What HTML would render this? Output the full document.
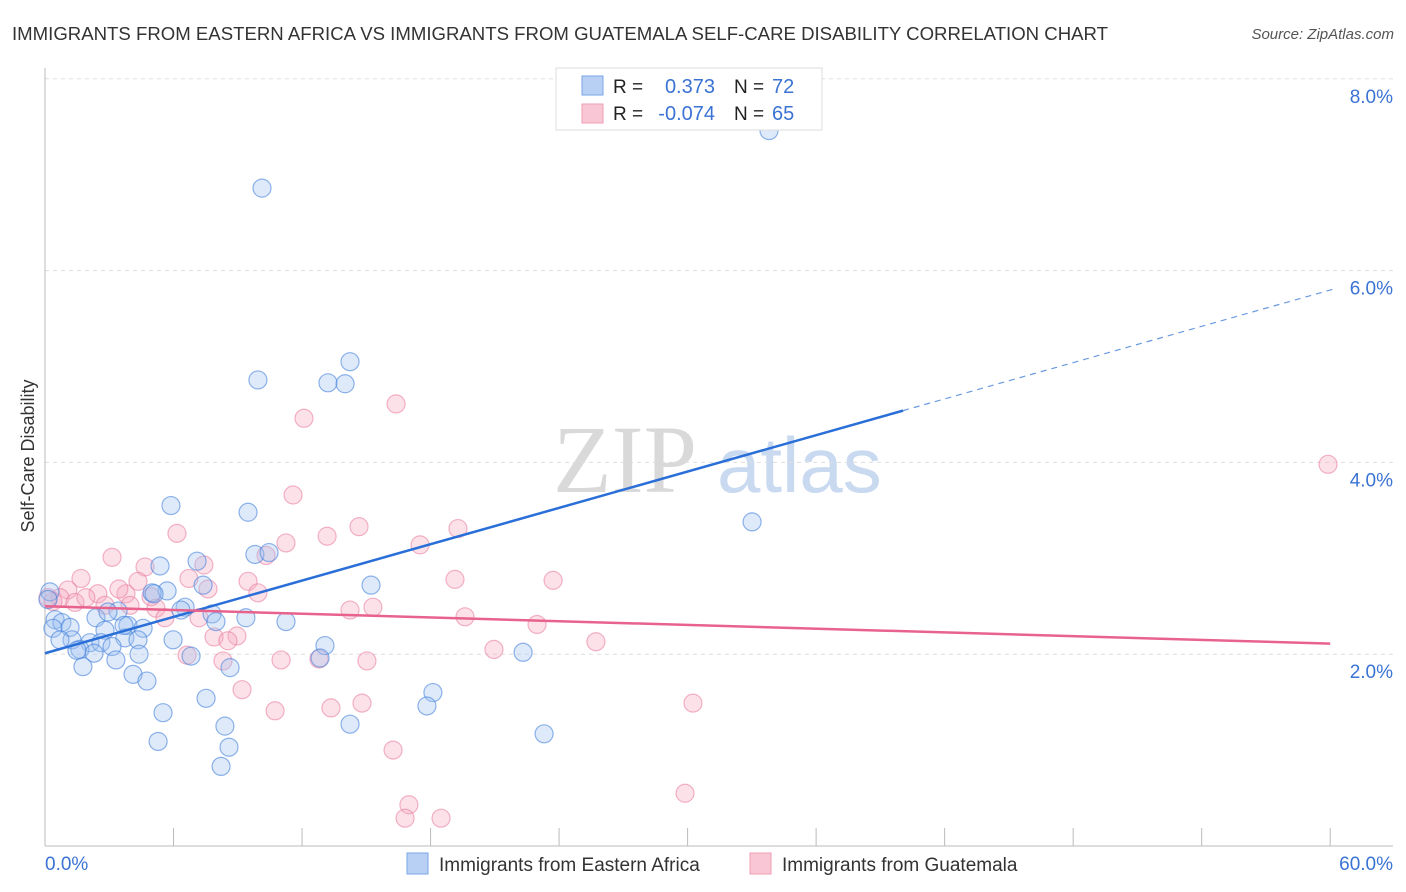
<!DOCTYPE html>
<html><head><meta charset="utf-8"><style>
body{margin:0;background:#fff;font-family:"Liberation Sans",sans-serif;}
svg{display:block}
</style></head><body>
<svg id="chart" width="1406" height="892">
<text x="12" y="40" font-size="18.6" fill="#333" textLength="1096">IMMIGRANTS FROM EASTERN AFRICA VS IMMIGRANTS FROM GUATEMALA SELF-CARE DISABILITY CORRELATION CHART</text>
<text x="1394" y="39" font-size="15" fill="#555" font-style="italic" text-anchor="end">Source: ZipAtlas.com</text>
<text transform="translate(34,456) rotate(-90)" font-size="18" fill="#333" text-anchor="middle">Self-Care Disability</text>
<g>
<text x="553" y="492" font-family="Liberation Serif,serif" font-size="96" fill="#d9d9d9">ZIP</text>
<text x="717" y="492" font-size="78" fill="#c8d9f0">atlas</text>
</g>
<g id="grid"></g>
<g id="axes"></g>
<g id="pts"></g>
<g id="trend"></g>
<g>
<rect x="556" y="68" width="266" height="62" fill="#fff" stroke="#ddd"/>
<rect x="582" y="76" width="21" height="19" fill="#b8d0f4" stroke="#7aa6e8"/>
<rect x="582" y="104" width="21" height="19" fill="#f9c6d5" stroke="#ee9db5"/>
<text x="613" y="93" font-size="19" fill="#222">R = </text><text x="715" y="93" font-size="20" fill="#3b73d4" text-anchor="end">0.373</text>
<text x="734" y="93" font-size="19" fill="#222">N = </text><text x="772" y="93" font-size="20" fill="#3b73d4">72</text>
<text x="613" y="120" font-size="19" fill="#222">R = </text><text x="715" y="120" font-size="20" fill="#3b73d4" text-anchor="end">-0.074</text>
<text x="734" y="120" font-size="19" fill="#222">N = </text><text x="772" y="120" font-size="20" fill="#3b73d4">65</text>
</g>
<g>
<rect x="407" y="853" width="21" height="21" fill="#b8d0f4" stroke="#7aa6e8"/>
<text x="439" y="871" font-size="19" fill="#333">Immigrants from Eastern Africa</text>
<rect x="750" y="853" width="21" height="21" fill="#f9c6d5" stroke="#ee9db5"/>
<text x="782" y="871" font-size="19" fill="#333">Immigrants from Guatemala</text>
</g>
</svg>
<script>
const blueX=[33.80,10.13,14.24,9.94,13.21,14.01,5.88,9.48,33.01,9.80,10.46,7.10,5.37,15.22,5.70,5.00,5.09,7.38,6.54,6.35,3.41,7.80,9.38,11.25,7.98,2.38,0.47,0.79,1.17,3.87,4.58,2.80,5.98,3.73,1.26,2.10,2.61,3.13,4.34,1.63,2.29,13.07,12.84,6.82,4.39,22.32,3.31,8.64,1.77,4.11,4.76,18.11,7.52,17.83,5.51,8.40,14.24,23.30,5.28,8.59,8.22,0.23,0.14,0.37,0.70,1.49,2.94,3.69];
const blueY=[7.46,6.86,5.05,4.86,4.83,4.82,3.55,3.48,3.38,3.04,3.06,2.97,2.92,2.72,2.66,2.64,2.63,2.72,2.49,2.46,2.45,2.42,2.38,2.34,2.34,2.38,2.36,2.33,2.28,2.30,2.27,2.25,2.15,2.17,2.15,2.12,2.12,2.08,2.15,2.05,2.01,2.09,1.96,1.98,2.00,2.02,1.94,1.86,1.87,1.79,1.72,1.60,1.54,1.46,1.39,1.25,1.27,1.17,1.09,1.03,0.83,2.65,2.57,2.27,2.15,2.04,2.44,2.30];
const pinkX=[59.90,16.39,12.09,11.58,6.16,13.17,14.66,19.28,17.51,11.25,3.13,10.32,4.67,7.42,1.68,6.72,9.48,4.34,19.14,23.72,1.07,2.47,3.78,3.45,9.94,7.61,0.70,1.40,2.80,4.95,5.18,0.37,5.60,15.31,14.24,19.61,7.19,8.96,7.89,8.54,22.97,25.72,20.96,6.63,11.02,12.79,15.03,8.31,9.20,30.25,10.74,13.35,14.80,16.25,16.99,16.81,18.49,29.88,0.14,3.97,1.91];
const pinkY=[3.98,4.61,4.46,3.66,3.26,3.23,3.33,3.31,3.14,3.16,3.01,3.03,2.91,2.93,2.79,2.79,2.76,2.76,2.78,2.77,2.67,2.63,2.63,2.68,2.64,2.68,2.59,2.54,2.51,2.60,2.48,2.55,2.38,2.49,2.46,2.39,2.38,2.19,2.18,2.14,2.31,2.13,2.05,1.99,1.94,1.95,1.93,1.93,1.63,1.49,1.41,1.44,1.49,1.00,0.43,0.29,0.29,0.55,2.59,2.51,2.59];
const yTicks=[2,4,6,8];
const yTickLabels=["2.0%","4.0%","6.0%","8.0%"];
const xTicks=[0,6,12,18,24,30,36,42,48,54,60];
const blueTrend=[0,2.01,40.06,4.54,60.2,5.81];
const pinkTrend=[0,2.50,60,2.11];
const NS="http://www.w3.org/2000/svg";
const sx=v=>45+v*21.42, sy=v=>846-v*95.9;
function mk(tag,at,parent){const e=document.createElementNS(NS,tag);for(const k in at)e.setAttribute(k,at[k]);document.getElementById(parent).appendChild(e);return e;}
yTicks.forEach((t,i)=>{
 const g=mk('line',{x1:45,x2:1393,y1:sy(t),y2:sy(t),stroke:'#ddd','stroke-dasharray':'4,4'},'grid');
 
 
 const l=mk('text',{x:1393,y:sy(t)+24,'font-size':19,fill:'#3b73d4','text-anchor':'end'},'axes');
 l.textContent=yTickLabels[i];
 
 
});
const ax=mk('line',{x1:45,x2:1393,y1:846,y2:846,stroke:'#bbb'},'axes');


const ay=mk('line',{x1:45,x2:45,y1:68,y2:846,stroke:'#bbb'},'axes');


xTicks.forEach(t=>{const tk=mk('line',{x1:sx(t),x2:sx(t),y1:828,y2:846,stroke:'#bbb'},'axes');
 
 });
const x0=mk('text',{x:45,y:870,'font-size':19,fill:'#3b73d4'},'axes');x0.textContent='0.0%';


const x1=mk('text',{x:1393,y:870,'font-size':19,fill:'#3b73d4','text-anchor':'end'},'axes');x1.textContent='60.0%';


pinkX.forEach((v,i)=>{const c=mk('circle',{cx:sx(v),cy:sy(pinkY[i]),r:9,fill:'rgba(246,170,193,0.35)',stroke:'rgba(232,120,155,0.55)','stroke-width':1.2},'pts');
 
 });
blueX.forEach((v,i)=>{const c=mk('circle',{cx:sx(v),cy:sy(blueY[i]),r:9,fill:'rgba(160,195,240,0.35)',stroke:'rgba(70,130,220,0.6)','stroke-width':1.2},'pts');
 
 });
const b1=mk('line',{x1:sx(blueTrend[0]),y1:sy(blueTrend[1]),x2:sx(blueTrend[2]),y2:sy(blueTrend[3]),stroke:'#2a6fd8','stroke-width':2.5},'trend');


const b2=mk('line',{x1:sx(blueTrend[2]),y1:sy(blueTrend[3]),x2:sx(blueTrend[4]),y2:sy(blueTrend[5]),stroke:'#6a9ae0','stroke-width':1.2,'stroke-dasharray':'6,5'},'trend');


const p1=mk('line',{x1:sx(pinkTrend[0]),y1:sy(pinkTrend[1]),x2:sx(pinkTrend[2]),y2:sy(pinkTrend[3]),stroke:'#e8628e','stroke-width':2.5},'trend');


</script>
</body></html>
